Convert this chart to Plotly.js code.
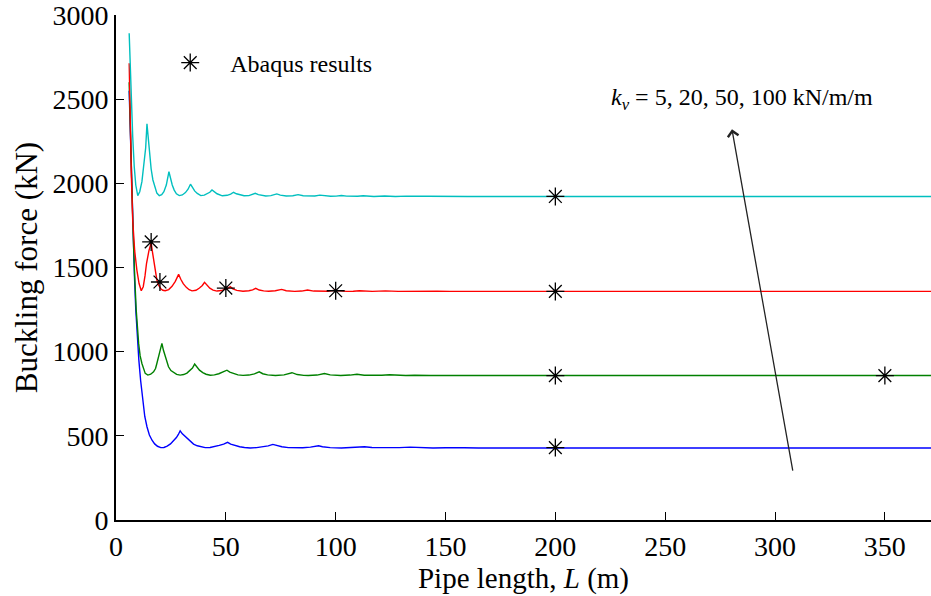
<!DOCTYPE html>
<html>
<head>
<meta charset="utf-8">
<script src="https://cdn.plot.ly/plotly-3.0.1.min.js"></script>
<style>html,body{margin:0;padding:0;background:#fff;}#chart{width:931px;height:596px;}</style>
</head>
<body>
<div id="chart"></div>
<script>
// kv = 100 kN/m/m (cyan)
const L100 = [6.0,6.5,7.0,7.6,8.3,9.0,9.9,10.8,11.8,12.8,13.5,14.1,14.7,15.3,16.0,16.8,17.7,18.6,19.7,20.8,21.8,22.9,24.1,24.8,25.6,26.5,27.5,28.8,30.2,31.6,32.8,33.9,34.8,35.8,37.0,38.6,40.2,41.6,42.7,43.7,44.7,46.0,48.4,50.6,52.2,53.5,54.8,56.5,58.3,60.5,62.0,63.4,64.8,66.5,68.2,70.5,72.0,73.2,74.8,77.5,80.5,82.9,85.2,87.8,90.5,92.8,95.3,97.7,100.2,102.6,105.0,107.5,110.0,112.5,117.4,122.3,127.2,132.1,137.0,142.0,160,371];
const P100 = [2892,2680,2480,2280,2100,1990,1927,1950,2010,2110,2210,2353,2250,2160,2085,2020,1972,1942,1927,1933,1950,1990,2069,2030,1990,1960,1938,1927,1931,1945,1965,1995,1975,1955,1940,1927,1930,1938,1947,1961,1950,1938,1926,1929,1936,1947,1938,1930,1926,1927,1933,1941,1933,1927,1925,1927,1931,1937,1930,1925,1926,1933,1926,1924,1925,1930,1925,1923,1924,1928,1924,1923,1923,1926,1922,1925,1922,1924,1922,1923,1922,1922];

// kv = 50 kN/m/m (red)
const L50 = [6.0,6.5,7.0,7.6,8.5,9.5,10.5,11.5,12.4,13.2,13.9,15.0,16.0,16.5,17.1,17.8,18.6,19.4,20.4,21.3,22.4,24.0,25.5,27.0,28.5,29.5,30.6,32.0,33.3,34.6,36.4,38.0,39.3,40.3,41.4,42.7,44.2,46.0,48.0,50.0,51.0,52.0,53.2,55.0,57.8,60.5,62.2,63.6,65.2,67.2,69.5,72.5,75.4,77.5,81.3,84.5,87.2,90.0,93.1,96.5,99.0,102,105,108,110.8,116.7,122.6,128.5,134.4,140.3,146.2,152,371];
const P50 = [2714,2330,2040,1782,1600,1485,1405,1362,1386,1450,1525,1600,1646,1600,1544,1480,1426,1395,1374,1365,1362,1369,1388,1418,1459,1430,1404,1382,1368,1361,1365,1378,1393,1412,1393,1377,1366,1360,1363,1371,1377,1386,1373,1364,1359,1362,1367,1376,1366,1361,1359,1362,1370,1362,1358,1360,1366,1360,1358,1359,1364,1359,1358,1359,1362,1358,1361,1358,1360,1358,1359.5,1358,1358];

// kv = 20 kN/m/m (green)
const L20 = [6.0,6.6,7.2,7.8,8.5,9.2,10.3,11.0,11.8,12.6,13.3,14.5,15.8,17.1,18.0,18.6,19.3,19.8,20.9,21.6,22.4,23.1,23.9,25.0,26.2,27.6,29.2,30.8,32.3,33.5,34.8,35.8,36.8,38.0,39.5,41.0,42.9,44.8,46.8,48.8,50.5,51.8,53.5,55.5,57.8,60.5,63.0,65.2,66.8,69.0,72.6,76.5,80.1,82.5,85.5,87.5,91.5,94.9,97.5,102.3,106.5,109.7,113,117.1,121,124.5,128,131.9,136,139.3,143,146.7,151,154.1,158,371];
const P20 = [2600,2250,1950,1700,1450,1247,1049,975,930,893,871,861,866,880,900,930,965,999,1049,1008,970,935,910,888,875,865,861,864,873,885,903,926,906,890,876,866,860,862,869,878,890,879,869,862,859,861,868,880,869,862,858,862,875,864,859,858,861,870,862,858,861,866,860,858,860,863,859,858,859.5,861,858.5,858,859,860,858,858];

// kv = 5 kN/m/m (blue)
const L5 = [6.0,6.6,7.2,7.8,8.4,9.0,9.7,10.4,11.2,12.1,13.1,14.1,15.2,16.4,17.6,18.9,20.4,21.8,23.3,24.8,26.2,27.5,28.4,29.2,30.2,31.3,32.3,33.8,35.3,37.0,38.5,40.6,42.8,45.0,47.0,49.0,50.8,52.2,54.0,56.3,58.5,61.1,64.0,66.8,69.3,71.4,73.0,75.5,78.5,81.7,85.0,88.5,92.2,94.0,97.5,102.6,107.5,113.1,116.5,123.5,129,133.9,137.5,144.3,150,154.7,158.5,165,175.5,185,371];
const P5 = [2550,2230,1950,1700,1450,1250,1080,950,830,712,615,554,505,474,452,438,430,431,439,452,469,490,508,530,512,498,485,466,451,441,435,430,431,436,443,451,461,451,442,435,431,428,430,434,440,449,442,435,430,428,429,433,441,435,430,428,430,435,431,428,430,433,430,428,429,431,429,428,429.5,428,428];

// Abaqus results
const abaqusL = [16, 20, 50, 100, 200, 200, 200, 200, 350];
const abaqusP = [1652, 1414, 1378, 1362, 1358, 1922, 858, 430, 858];

const xTicks = [0, 50, 100, 150, 200, 250, 300, 350];
const yTicks = [0, 500, 1000, 1500, 2000, 2500, 3000];

function curve(x, y, color) {
  return {x: x, y: y, type: 'scatter', mode: 'lines', line: {color: color, width: 1.4}, showlegend: false, hoverinfo: 'skip'};
}

const traces = [
  curve(L5, P5, '#0000FF'),
  curve(L20, P20, '#008000'),
  curve(L50, P50, '#FF0000'),
  curve(L100, P100, '#00BFBF'),
  {x: abaqusL, y: abaqusP, type: 'scatter', mode: 'markers', name: 'Abaqus results',
   marker: {symbol: 'asterisk-open', size: 15, color: 'black', line: {color: 'black', width: 1.3}}}
];

const font = 'Liberation Serif, Times New Roman, serif';
const layout = {
  width: 931, height: 596,
  margin: {l: 116, r: 0, t: 15, b: 76},
  paper_bgcolor: 'white', plot_bgcolor: 'white',
  font: {family: font, size: 28, color: 'black'},
  xaxis: {
    range: [0, 371], tickvals: xTicks, ticktext: xTicks.map(String),
    ticks: 'inside', ticklen: 8, tickwidth: 1, tickcolor: 'black', ticklabeloverflow: 'allow',
    showline: true, linewidth: 2, linecolor: 'black', showgrid: false, zeroline: false,
    tickfont: {family: font, size: 28, color: 'black'},
    title: {text: 'Pipe length, <i>L</i> (m)', font: {family: font, size: 29, color: 'black'}, standoff: 4}
  },
  yaxis: {
    range: [0, 3000], tickvals: yTicks, ticktext: yTicks.map(String),
    ticks: 'inside', ticklen: 8, tickwidth: 1, tickcolor: 'black', ticklabeloverflow: 'allow',
    showline: true, linewidth: 2, linecolor: 'black', showgrid: false, zeroline: false,
    tickfont: {family: font, size: 28, color: 'black'},
    title: {text: 'Buckling force (kN)', font: {family: font, size: 31, color: 'black'}, standoff: 6}
  },
  showlegend: true,
  legend: {x: 0.042, y: 0.905, xanchor: 'left', yanchor: 'middle', itemwidth: 70,
           font: {family: font, size: 24, color: 'black'}, bgcolor: 'rgba(0,0,0,0)', borderwidth: 0},
  annotations: [
    {x: 224.5, y: 2500, xref: 'x', yref: 'y', xanchor: 'left', yanchor: 'middle', showarrow: false,
     text: '<i>k</i><sub><i>v</i></sub> = 5, 20, 50, 100 kN/m/m', font: {family: font, size: 24, color: 'black'}},
    {x: 280.4, y: 2321, ax: 308.2, ay: 284, xref: 'x', yref: 'y', axref: 'x', ayref: 'y', text: '',
     showarrow: true, arrowhead: 4, arrowsize: 1.6, arrowwidth: 1.3, arrowcolor: '#222222', standoff: 0}
  ]
};

Plotly.newPlot('chart', traces, layout, {staticPlot: true, displayModeBar: false});
</script>
</body>
</html>
